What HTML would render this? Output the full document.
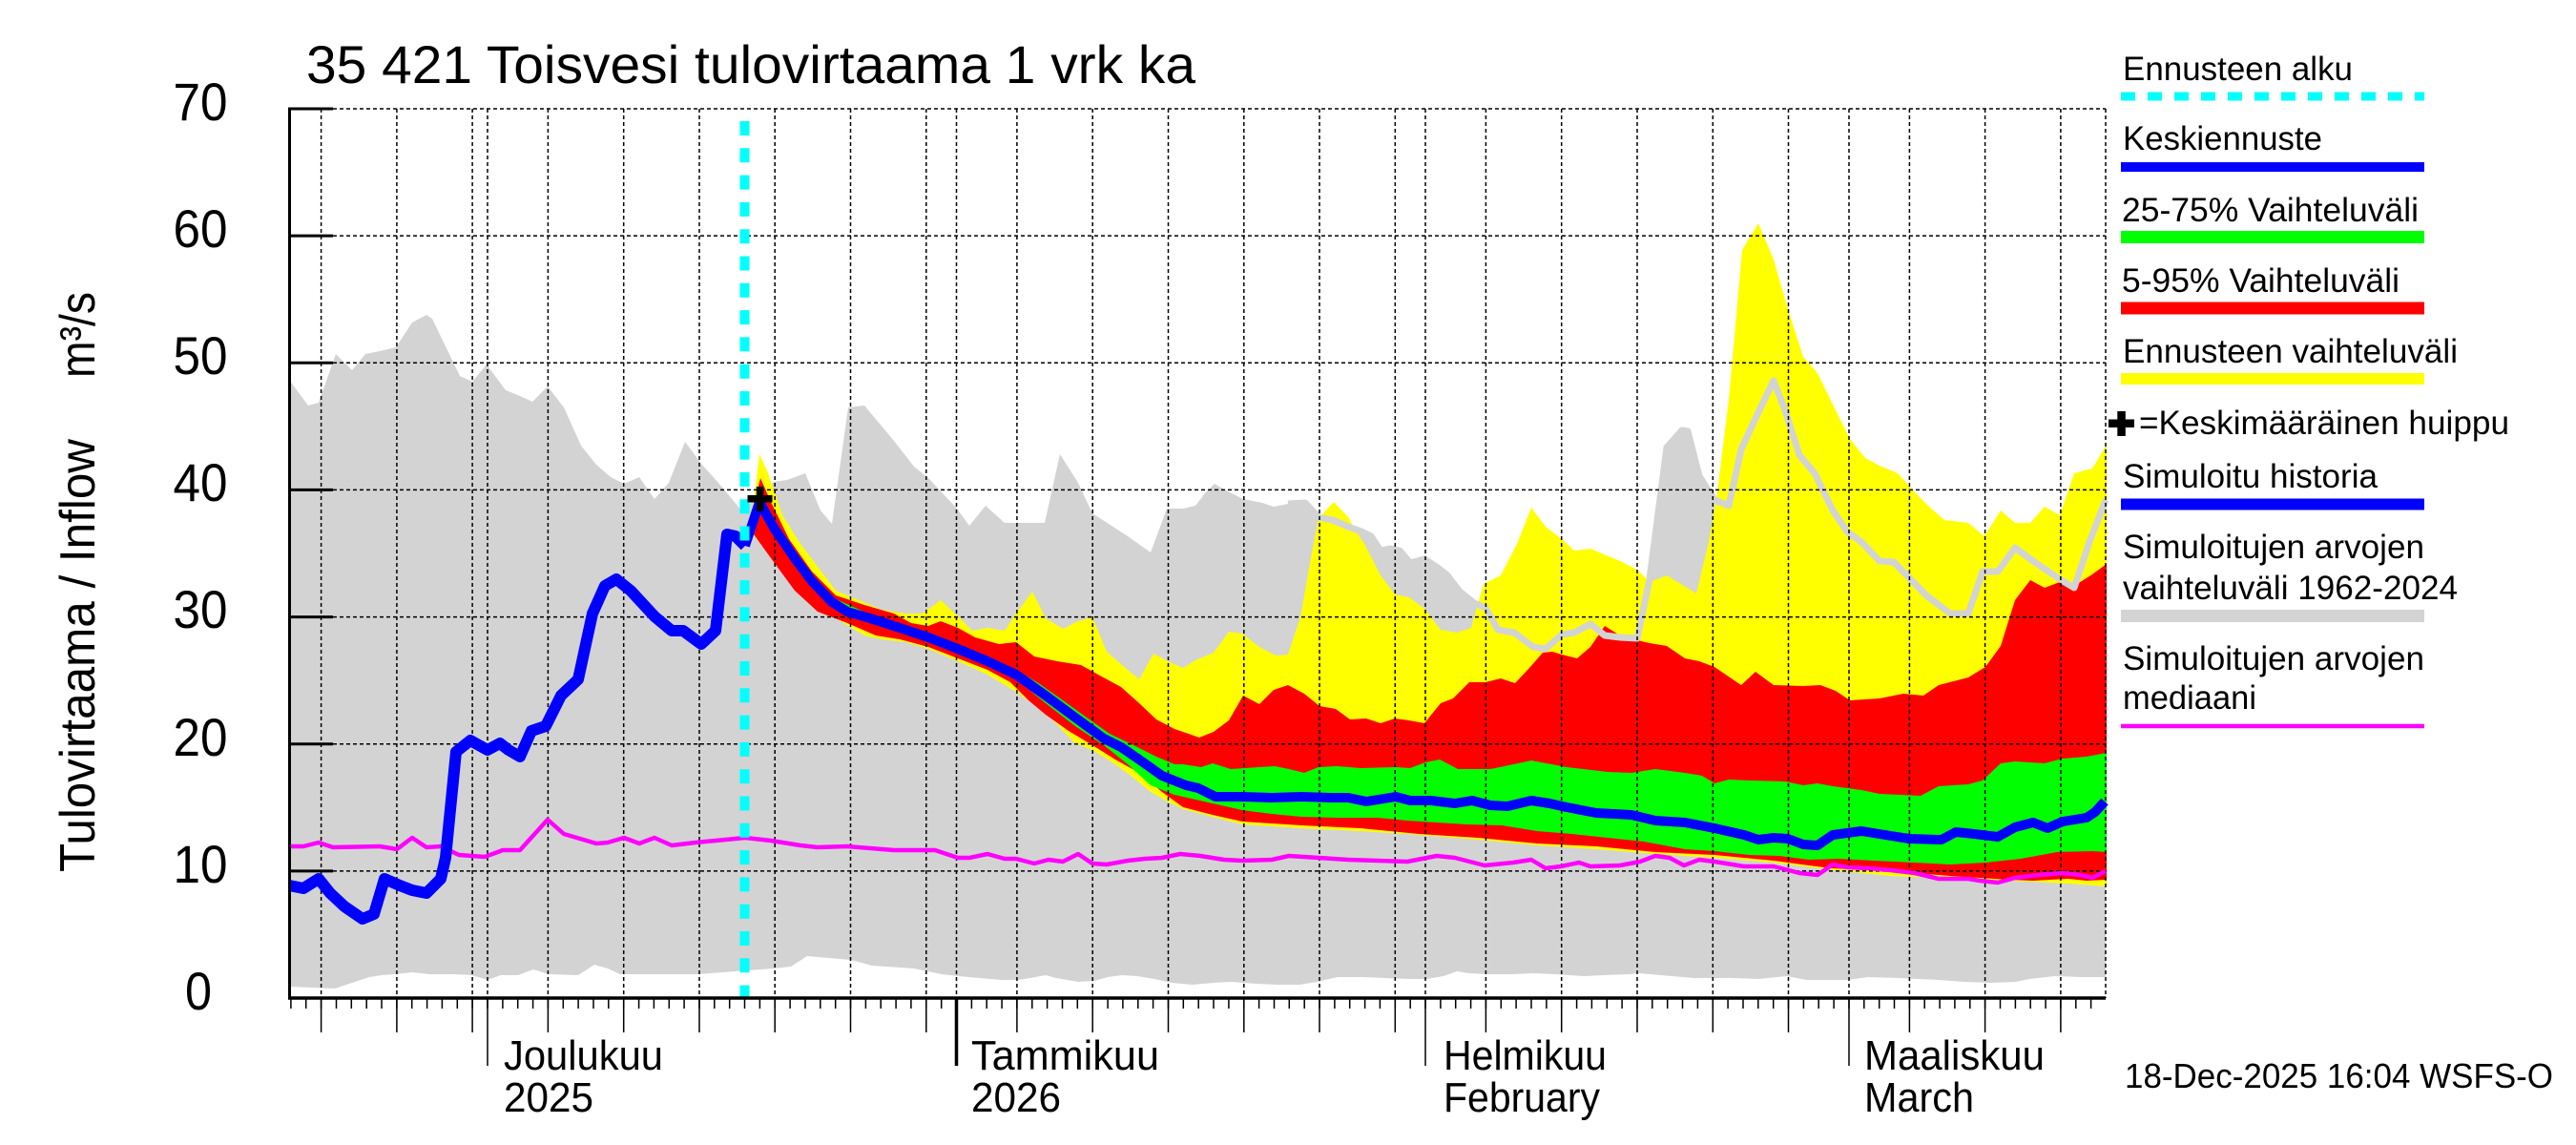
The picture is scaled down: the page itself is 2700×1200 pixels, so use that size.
<!DOCTYPE html>
<html><head><meta charset="utf-8"><style>
html,body{margin:0;padding:0;background:#fff;}
svg{display:block;}
text{font-family:"Liberation Sans",Arial,sans-serif;fill:#000;}
</style></head><body>
<svg width="2700" height="1200" viewBox="0 0 2700 1200" xmlns="http://www.w3.org/2000/svg">
<rect x="0" y="0" width="2700" height="1200" fill="#fff"/>

<!-- gray band -->
<polygon fill="#d3d3d3" points="303,398 323,425 334,422 352,371 369,388 383,371 398,368 415,364 432,338 447,330 453,334 482,394 495,400 510,382 530,409 545,415 558,421 574,405 591,427 609,467 625,487 640,500 654,507 670,500 686,523 701,506 718,463 735,486 753,506 778,536 797,516 811,505 825,503 844,496 860,535 872,549 889,427 906,425 937,462 958,489 973,501 1003,533 1016,551 1033,530 1053,548 1095,548 1111,476 1130,506 1145,538 1182,562 1206,579 1223,533 1240,533 1253,530 1263,517 1273,507 1283,513 1303,523 1323,527 1335,531 1350,528 1368,527 1382,542 1397,545 1413,552 1427,557 1437,562 1447,577 1457,575 1467,577 1478,590 1493,586 1507,595 1517,603 1530,620 1545,632 1557,637 1570,660 1587,663 1607,678 1620,680 1637,665 1650,663 1667,654 1682,666 1698,668 1716,669 1729,607 1747,469 1763,451 1769,452 1781,499 1797,524 1812,530 1825,471 1843,432 1859,399 1871,430 1886,477 1902,496 1921,535 1936,557 1951,568 1970,588 1985,589 2019,624 2044,643 2063,643 2078,599 2094,599 2112,574 2131,588 2159,607 2174,616 2190,568 2207,524 2207,1024 2181,1024 2154,1023 2127,1026 2113,1029 2086,1030 2059,1029 2032,1027 1991,1025 1958,1024 1937,1027 1893,1027 1873,1023 1843,1026 1816,1025 1775,1025 1741,1022 1718,1020 1708,1021 1681,1022 1660,1023 1630,1021 1607,1020 1585,1021 1558,1021 1540,1020 1527,1018 1513,1023 1496,1026 1478,1026 1451,1025 1429,1024 1402,1024 1380,1029 1362,1032 1339,1032 1317,1031 1290,1029 1272,1030 1250,1032 1228,1030 1210,1026 1192,1023 1176,1022 1161,1024 1147,1028 1130,1029 1107,1025 1096,1022 1080,1025 1067,1027 1049,1027 1027,1025 1005,1023 987,1021 958,1015 914,1012 892,1006 846,1002 829,1013 811,1015 771,1018 731,1021 650,1021 637,1015 623,1011 606,1022 575,1021 559,1016 543,1022 525,1022 511,1027 494,1022 476,1021 450,1021 432,1019 414,1021 400,1022 387,1024 351,1036 303,1034"/>

<!-- yellow band -->
<polygon fill="#ffff00" points="781,565 790,526 796,476 805,496 820,540 839,570 857,594 876,619 900,629 924,639 949,643 967,643 986,629 1004,646 1019,661 1035,658 1053,661 1065,643 1082,620 1096,648 1114,659 1130,651 1145,647 1160,683 1182,702 1194,712 1209,685 1224,693 1240,700 1253,692 1272,684 1288,662 1302,664 1320,678 1337,687 1350,686 1363,647 1373,590 1382,543 1398,526 1413,542 1422,558 1430,570 1447,603 1462,623 1477,626 1493,638 1510,660 1527,663 1542,658 1547,640 1555,612 1573,603 1590,570 1605,532 1620,552 1637,565 1650,577 1667,575 1698,588 1716,597 1729,610 1747,603 1778,622 1791,568 1800,516 1812,419 1826,262 1843,234 1859,272 1874,324 1890,374 1905,391 1921,424 1939,460 1955,480 1970,488 1989,496 2007,516 2023,532 2038,545 2063,548 2080,562 2097,535 2112,548 2128,548 2143,531 2159,540 2174,496 2193,491 2208,466 2208,929 2168,926 2106,923 2044,921 1982,918 1921,912 1859,904 1797,899 1735,895 1673,890 1611,886 1549,880 1487,875 1426,871 1364,868 1302,864 1240,848 1224,840 1206,830 1188,815 1169,801 1145,786 1127,779 1096,747 1065,725 1035,707 1004,693 973,680 949,673 924,670 906,666 876,648 851,634 827,604 808,575 796,555 781,572"/>

<!-- red band -->
<polygon fill="#ff0000" points="781,570 790,531 797,501 808,526 827,565 851,599 876,624 906,634 937,643 955,653 973,656 986,651 1004,658 1022,668 1047,675 1065,673 1084,688 1108,693 1133,697 1151,707 1175,720 1194,737 1212,754 1231,764 1240,767 1257,773 1272,767 1288,755 1303,729 1320,738 1335,723 1350,718 1367,727 1383,740 1400,743 1415,754 1432,753 1447,758 1462,753 1477,755 1493,758 1510,737 1523,732 1540,715 1557,715 1573,711 1588,716 1603,700 1617,684 1627,683 1637,686 1653,690 1667,678 1682,656 1698,666 1716,671 1729,674 1747,677 1766,690 1781,693 1797,699 1825,718 1840,704 1859,718 1890,719 1908,718 1924,724 1939,734 1970,732 1995,727 2016,729 2032,718 2063,710 2081,699 2097,677 2112,629 2128,608 2143,616 2159,610 2174,614 2193,602 2208,591 2208,922 2187,923 2168,921 2149,922 2131,923 2106,922 2044,918 1982,913 1921,910 1896,907 1859,902 1797,896 1735,893 1673,887 1611,884 1549,878 1487,874 1426,868 1364,865 1302,861 1271,854 1240,846 1218,830 1194,810 1169,796 1145,781 1120,766 1096,749 1078,734 1059,715 1035,702 1004,690 973,678 943,670 918,666 888,653 857,641 833,619 808,585 790,560 781,572"/>

<!-- green band -->
<polygon fill="#00ff00" points="781,571 796,526 833,580 872,626 912,644 973,664 1035,688 1065,702 1090,717 1114,734 1139,752 1163,769 1188,781 1212,793 1231,801 1240,801 1259,804 1271,800 1290,806 1320,804 1336,803 1351,806 1367,810 1382,804 1401,803 1426,805 1463,804 1478,805 1494,799 1509,796 1528,806 1562,806 1577,803 1605,797 1642,804 1685,809 1710,810 1735,806 1766,810 1784,813 1797,821 1812,817 1834,818 1871,819 1890,823 1905,821 1921,824 1951,828 1970,832 2013,834 2032,824 2063,822 2078,818 2097,800 2112,798 2143,800 2162,795 2187,793 2208,789 2208,893 2193,892 2156,893 2118,900 2081,904 2044,906 2007,904 1964,902 1927,900 1896,901 1865,897 1834,896 1797,892 1766,890 1723,882 1685,878 1648,874 1611,871 1574,865 1537,864 1506,862 1475,860 1444,857 1401,857 1364,856 1333,853 1302,849 1271,842 1240,835 1231,833 1206,823 1182,801 1157,781 1127,761 1096,737 1065,712 1035,697 973,673 912,652 872,636 833,589 796,535 781,573"/>

<!-- gray upper-edge line over forecast -->
<polyline fill="none" stroke="#d3d3d3" stroke-width="7" stroke-linejoin="round" points="1350,528 1368,527 1382,542 1397,545 1413,552 1427,557 1437,562 1447,577 1457,575 1467,577 1478,590 1493,586 1507,595 1517,603 1530,620 1545,632 1557,637 1570,660 1587,663 1607,678 1620,680 1637,665 1650,663 1667,654 1682,666 1698,668 1716,669 1729,607 1747,469 1763,451 1769,452 1781,499 1797,524 1812,530 1825,471 1843,432 1859,399 1871,430 1886,477 1902,496 1921,535 1936,557 1951,568 1970,588 1985,589 2019,624 2044,643 2063,643 2078,599 2094,599 2112,574 2131,588 2159,607 2174,616 2190,568 2207,524"/>

<!-- grid -->
<g stroke="#000" stroke-width="1.5" stroke-dasharray="4 3" fill="none">
<path d="M349,114H2207M349,247.1H2207M349,380.3H2207M349,513.4H2207M349,646.6H2207M349,779.7H2207M349,912.9H2207"/>
<path d="M336.6,114V1046M415.9,114V1046M495.1,114V1046M511,114V1046M574.4,114V1046M653.7,114V1046M733,114V1046M812.2,114V1046M891.5,114V1046M970.8,114V1046M1002.5,114V1046M1065.9,114V1046M1145.2,114V1046M1224.5,114V1046M1303.8,114V1046M1383,114V1046M1462.3,114V1046M1494,114V1046M1557.4,114V1046M1636.7,114V1046M1716,114V1046M1795.3,114V1046M1874.5,114V1046M1938,114V1046M2001.4,114V1046M2080.6,114V1046M2159.9,114V1046M2207,114V1046"/>
</g>

<!-- median magenta -->
<polyline fill="none" stroke="#ff00ff" stroke-width="4.5" stroke-linejoin="round" points="303,887 318,887 334,883 349,888 398,887 416,890 432,878 447,888 462,887 481,896 508,898 527,891 545,891 574,859 591,874 625,884 637,883 654,878 670,884 686,878 704,886 729,883 781,878 808,881 839,886 857,888 888,887 937,891 980,891 1004,899 1016,899 1035,895 1053,900 1065,900 1084,905 1099,901 1114,903 1130,895 1145,905 1160,906 1182,902 1200,900 1218,899 1237,895 1258,897 1283,901 1302,902 1333,901 1351,897 1382,899 1413,901 1475,903 1506,897 1525,899 1556,907 1586,904 1605,901 1620,910 1636,908 1655,904 1667,908 1698,907 1719,903 1735,897 1750,899 1765,907 1781,901 1797,903 1828,908 1859,908 1871,911 1886,915 1905,917 1921,906 1936,909 1958,910 1982,912 2007,915 2032,921 2063,921 2075,923 2094,925 2112,920 2137,917 2162,915 2180,917 2193,920 2207,913"/>

<!-- blue history -->
<polyline fill="none" stroke="#0000ff" stroke-width="12" stroke-linejoin="round" points="303,928 318,931 334,921 346,936 361,950 380,963 392,958 403,921 419,928 432,933 447,936 462,921 467,899 478,788 493,776 511,786 524,779 533,786 545,793 557,766 572,761 588,729 606,712 621,643 634,614 646,607 661,619 686,646 704,661 716,661 735,675 750,661 762,560 771,562 781,572"/>
<!-- blue forecast -->
<polyline fill="none" stroke="#0000ff" stroke-width="10" stroke-linejoin="round" points="781,572 796,526 811,553 833,585 851,609 872,631 888,641 912,648 943,658 973,668 1004,680 1035,693 1065,707 1096,729 1127,752 1157,774 1175,783 1194,796 1218,813 1243,823 1256,826 1274,835 1302,835 1333,836 1364,835 1395,836 1413,836 1432,840 1463,835 1478,839 1500,839 1525,842 1543,839 1562,844 1580,845 1605,839 1624,842 1642,846 1673,852 1710,854 1735,860 1766,862 1797,868 1828,875 1843,880 1859,878 1874,879 1890,885 1905,886 1921,875 1951,871 1982,876 2001,879 2035,880 2050,872 2069,874 2094,877 2112,867 2131,862 2146,868 2162,861 2187,857 2196,851 2206,840"/>

<!-- forecast start -->
<line x1="780.5" y1="127" x2="780.5" y2="1046" stroke="#00ffff" stroke-width="10" stroke-dasharray="15 13.3"/>

<!-- mean peak marker -->
<rect x="783.5" y="519" width="26" height="7.5" fill="#000"/>
<rect x="792.8" y="510" width="7.5" height="26" fill="#000"/>

<!-- axes -->
<g stroke="#000" fill="none">
<path d="M303.5,112.5V1047.5" stroke-width="3"/>
<path d="M302,1046H2207" stroke-width="3.5"/>
<path d="M303,114H349M303,247.1H349M303,380.3H349M303,513.4H349M303,646.6H349M303,779.7H349M303,912.9H349" stroke-width="3"/>
<path stroke-width="1.5" d="M304.9,1046v11M320.7,1046v11M336.6,1046v11M352.5,1046v11M368.3,1046v11M384.2,1046v11M400,1046v11M415.9,1046v11M431.7,1046v11M447.6,1046v11M463.4,1046v11M479.3,1046v11M495.1,1046v11M511,1046v11M526.9,1046v11M542.7,1046v11M558.6,1046v11M574.4,1046v11M590.3,1046v11M606.1,1046v11M622,1046v11M637.8,1046v11M653.7,1046v11M669.6,1046v11M685.4,1046v11M701.3,1046v11M717.1,1046v11M733,1046v11M748.8,1046v11M764.7,1046v11M780.5,1046v11M796.4,1046v11M812.2,1046v11M828.1,1046v11M844,1046v11M859.8,1046v11M875.7,1046v11M891.5,1046v11M907.4,1046v11M923.2,1046v11M939.1,1046v11M954.9,1046v11M970.8,1046v11M986.7,1046v11M1002.5,1046v11M1018.4,1046v11M1034.2,1046v11M1050.1,1046v11M1065.9,1046v11M1081.8,1046v11M1097.6,1046v11M1113.5,1046v11M1129.3,1046v11M1145.2,1046v11M1161.1,1046v11M1176.9,1046v11M1192.8,1046v11M1208.6,1046v11M1224.5,1046v11M1240.3,1046v11M1256.2,1046v11M1272,1046v11M1287.9,1046v11M1303.8,1046v11M1319.6,1046v11M1335.5,1046v11M1351.3,1046v11M1367.2,1046v11M1383,1046v11M1398.9,1046v11M1414.7,1046v11M1430.6,1046v11M1446.4,1046v11M1462.3,1046v11M1478.2,1046v11M1494,1046v11M1509.9,1046v11M1525.7,1046v11M1541.6,1046v11M1557.4,1046v11M1573.3,1046v11M1589.1,1046v11M1605,1046v11M1620.9,1046v11M1636.7,1046v11M1652.6,1046v11M1668.4,1046v11M1684.3,1046v11M1700.1,1046v11M1716,1046v11M1731.8,1046v11M1747.7,1046v11M1763.5,1046v11M1779.4,1046v11M1795.3,1046v11M1811.1,1046v11M1827,1046v11M1842.8,1046v11M1858.7,1046v11M1874.5,1046v11M1890.4,1046v11M1906.2,1046v11M1922.1,1046v11M1938,1046v11M1953.8,1046v11M1969.7,1046v11M1985.5,1046v11M2001.4,1046v11M2017.2,1046v11M2033.1,1046v11M2048.9,1046v11M2064.8,1046v11M2080.6,1046v11M2096.5,1046v11M2112.4,1046v11M2128.2,1046v11M2144.1,1046v11M2159.9,1046v11M2175.8,1046v11M2191.6,1046v11"/>
<path stroke-width="1.5" d="M336.6,1046V1082M415.9,1046V1082M495.1,1046V1082M574.4,1046V1082M653.7,1046V1082M733,1046V1082M812.2,1046V1082M891.5,1046V1082M970.8,1046V1082M1065.9,1046V1082M1145.2,1046V1082M1224.5,1046V1082M1303.8,1046V1082M1383,1046V1082M1462.3,1046V1082M1557.4,1046V1082M1636.7,1046V1082M1716,1046V1082M1795.3,1046V1082M1874.5,1046V1082M2001.4,1046V1082M2080.6,1046V1082M2159.9,1046V1082"/>
<path stroke-width="1.5" d="M511,1046V1117M1494,1046V1117M1938,1046V1117"/>
<path stroke-width="3.5" d="M1002.5,1046V1117"/>
</g>

<!-- title -->
<text x="321" y="87" font-size="56" textLength="932" lengthAdjust="spacingAndGlyphs">35 421 Toisvesi tulovirtaama 1 vrk ka</text>

<!-- y tick labels -->
<g font-size="56" text-anchor="middle">
<text x="210" y="126" textLength="57" lengthAdjust="spacingAndGlyphs">70</text>
<text x="210" y="259" textLength="57" lengthAdjust="spacingAndGlyphs">60</text>
<text x="210" y="392" textLength="57" lengthAdjust="spacingAndGlyphs">50</text>
<text x="210" y="525" textLength="57" lengthAdjust="spacingAndGlyphs">40</text>
<text x="210" y="658" textLength="57" lengthAdjust="spacingAndGlyphs">30</text>
<text x="210" y="792" textLength="57" lengthAdjust="spacingAndGlyphs">20</text>
<text x="210" y="925" textLength="57" lengthAdjust="spacingAndGlyphs">10</text>
<text x="208" y="1058" textLength="28" lengthAdjust="spacingAndGlyphs">0</text>
</g>

<!-- y axis title -->
<text transform="translate(99,914) rotate(-90)" font-size="52" textLength="454" lengthAdjust="spacingAndGlyphs">Tulovirtaama / Inflow</text>
<text transform="translate(99,396) rotate(-90)" font-size="52" textLength="90" lengthAdjust="spacingAndGlyphs">m³/s</text>

<!-- month labels -->
<g font-size="44">
<text x="528" y="1121" textLength="167" lengthAdjust="spacingAndGlyphs">Joulukuu</text>
<text x="528" y="1165" textLength="94" lengthAdjust="spacingAndGlyphs">2025</text>
<text x="1018" y="1121" textLength="197" lengthAdjust="spacingAndGlyphs">Tammikuu</text>
<text x="1018" y="1165" textLength="94" lengthAdjust="spacingAndGlyphs">2026</text>
<text x="1513" y="1121" textLength="171" lengthAdjust="spacingAndGlyphs">Helmikuu</text>
<text x="1513" y="1165" textLength="164" lengthAdjust="spacingAndGlyphs">February</text>
<text x="1954" y="1121" textLength="189" lengthAdjust="spacingAndGlyphs">Maaliskuu</text>
<text x="1954" y="1165" textLength="115" lengthAdjust="spacingAndGlyphs">March</text>
</g>

<!-- timestamp -->
<text x="2227" y="1140" font-size="36" textLength="449" lengthAdjust="spacingAndGlyphs">18-Dec-2025 16:04 WSFS-O</text>

<!-- legend -->
<g font-size="35">
<text x="2225" y="84" textLength="241" lengthAdjust="spacingAndGlyphs">Ennusteen alku</text>
<text x="2225" y="157" textLength="209" lengthAdjust="spacingAndGlyphs">Keskiennuste</text>
<text x="2224" y="232" textLength="311" lengthAdjust="spacingAndGlyphs">25-75% Vaihteluväli</text>
<text x="2224" y="306" textLength="291" lengthAdjust="spacingAndGlyphs">5-95% Vaihteluväli</text>
<text x="2225" y="380" textLength="351" lengthAdjust="spacingAndGlyphs">Ennusteen vaihteluväli</text>
<text x="2242" y="455" textLength="388" lengthAdjust="spacingAndGlyphs">=Keskimääräinen huippu</text>
<text x="2225" y="511" textLength="267" lengthAdjust="spacingAndGlyphs">Simuloitu historia</text>
<text x="2225" y="585" textLength="316" lengthAdjust="spacingAndGlyphs">Simuloitujen arvojen</text>
<text x="2225" y="628" textLength="351" lengthAdjust="spacingAndGlyphs">vaihteluväli 1962-2024</text>
<text x="2225" y="702" textLength="316" lengthAdjust="spacingAndGlyphs">Simuloitujen arvojen</text>
<text x="2225" y="743" textLength="140" lengthAdjust="spacingAndGlyphs">mediaani</text>
</g>
<line x1="2223" y1="101" x2="2541" y2="101" stroke="#00ffff" stroke-width="9" stroke-dasharray="15 13"/>
<line x1="2223" y1="175" x2="2541" y2="175" stroke="#0000ff" stroke-width="10"/>
<line x1="2223" y1="248.5" x2="2541" y2="248.5" stroke="#00ff00" stroke-width="13"/>
<line x1="2223" y1="323" x2="2541" y2="323" stroke="#ff0000" stroke-width="13"/>
<line x1="2223" y1="397" x2="2541" y2="397" stroke="#ffff00" stroke-width="12"/>
<rect x="2210" y="439.5" width="27" height="8.5" fill="#000"/>
<rect x="2219.3" y="431" width="8.5" height="26" fill="#000"/>
<line x1="2223" y1="528.5" x2="2541" y2="528.5" stroke="#0000ff" stroke-width="12"/>
<line x1="2223" y1="645.5" x2="2541" y2="645.5" stroke="#d3d3d3" stroke-width="13"/>
<line x1="2223" y1="761" x2="2541" y2="761" stroke="#ff00ff" stroke-width="4.5"/>
</svg>
</body></html>
